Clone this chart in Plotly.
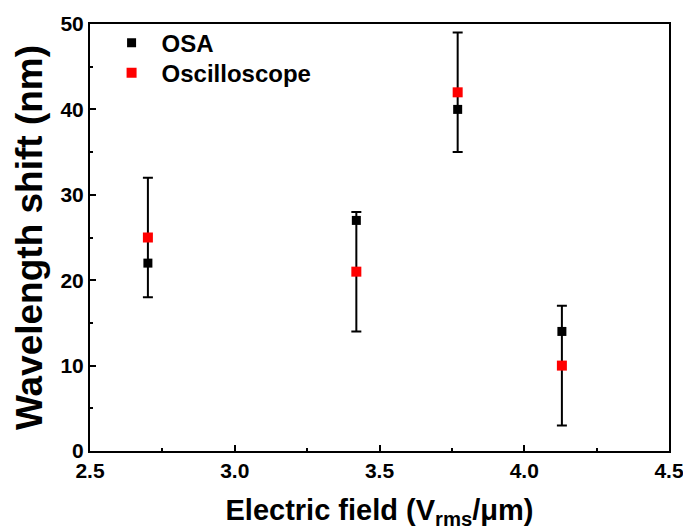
import plotly.graph_objects as go

field = [2.70, 3.42, 3.77, 4.13]
osa_shift = [22, 27, 40, 14]
osc_shift = [25, 21, 42, 10]
osc_err = [7, 7, 7, 7]

x_ticks = [2.5, 3.0, 3.5, 4.0, 4.5]
x_labels = ["2.5", "3.0", "3.5", "4.0", "4.5"]
y_ticks = [0, 10, 20, 30, 40, 50]
y_labels = ["0", "10", "20", "30", "40", "50"]

FONT = "Liberation Sans, Arial, sans-serif"

fig = go.Figure()
# error bars (drawn first, beneath markers)
fig.add_trace(go.Scatter(
    x=field, y=osc_shift, mode="markers",
    marker=dict(size=1, color="rgba(0,0,0,0)"),
    error_y=dict(type="data", array=osc_err, visible=True, color="black",
                 thickness=2, width=5),
    showlegend=False, hoverinfo="skip"))
fig.add_trace(go.Scatter(
    x=field, y=osa_shift, mode="markers", name="OSA", legend="legend",
    marker=dict(symbol="square", size=9, color="black")))
fig.add_trace(go.Scatter(
    x=field, y=osc_shift, mode="markers", name="Oscilloscope", legend="legend2",
    marker=dict(symbol="square", size=10, color="#ff0000")))

legend_style = dict(xanchor="left", yanchor="middle",
                    font=dict(family=FONT, size=24, color="black", weight="bold"),
                    bgcolor="rgba(0,0,0,0)", itemwidth=50)

fig.update_layout(
    width=683, height=531,
    margin=dict(l=89.5, r=14, t=24, b=80, autoexpand=False),
    paper_bgcolor="white", plot_bgcolor="white",
    font=dict(family=FONT, color="black"),
    showlegend=True,
    legend=dict(x=0.02, y=0.955, **legend_style),
    legend2=dict(x=0.02, y=0.885, **legend_style),
    xaxis=dict(
        range=[2.5, 4.5], tickmode="array",
        tickvals=x_ticks, ticktext=x_labels,
        ticks="inside", ticklen=6, tickwidth=2, tickcolor="black",
        minor=dict(ticks="inside", dtick=0.25, tick0=2.5, ticklen=3, tickwidth=2, tickcolor="black"),
        showline=True, linewidth=2, linecolor="black", mirror=True,
        showgrid=False, zeroline=False, ticklabeloverflow="allow", automargin=False,
        tickfont=dict(family=FONT, size=21, color="black", weight="bold"),
        title=dict(text="Electric field (V<sub>rms</sub>/μm)",
                   font=dict(family=FONT, size=29, color="black", weight="bold"), standoff=18),
    ),
    yaxis=dict(
        range=[0, 50], tickmode="array",
        tickvals=y_ticks, ticktext=y_labels,
        ticks="inside", ticklen=6, tickwidth=2, tickcolor="black",
        minor=dict(ticks="inside", dtick=5, tick0=0, ticklen=3, tickwidth=2, tickcolor="black"),
        showline=True, linewidth=2, linecolor="black", mirror=True,
        showgrid=False, zeroline=False, ticklabeloverflow="allow", automargin=False,
        tickfont=dict(family=FONT, size=21, color="black", weight="bold"),
        title=dict(text="Wavelength shift (nm)",
                   font=dict(family=FONT, size=37, color="black", weight="bold"), standoff=6),
    ),
)

fig.write_html("out.html")
